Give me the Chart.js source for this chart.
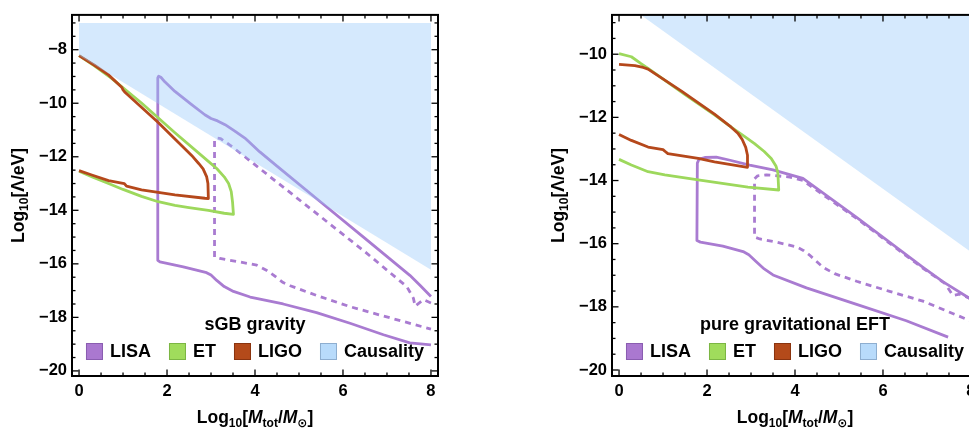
<!DOCTYPE html>
<html>
<head>
<meta charset="utf-8">
<script src="https://cdn.jsdelivr.net/npm/chart.js@4.4.1/dist/chart.umd.min.js"></script>
<style>
  html, body { margin: 0; padding: 0; background: #fff; overflow: hidden; }
  body { width: 969px; height: 432px; position: relative; }
  canvas { position: absolute; top: 0; }
  #sgb { left: 0; }
  #eft { left: 540px; }
</style>
</head>
<body>
<canvas id="sgb" width="480" height="432"></canvas>
<canvas id="eft" width="460" height="432"></canvas>
<script>
// Ticks
const xTicks = [0, 2, 4, 6, 8];
const yTicksSgb = [-20, -18, -16, -14, -12, -10, -8];
const yTicksEft = [-20, -18, -16, -14, -12, -10];
const legendNames = ['LISA', 'ET', 'LIGO', 'Causality'];

// sGB gravity panel: [log10 M, log10 Lambda]
const sgbCausality = [[0, -8.22], [8, -16.22]];
const sgbCausalityTop = -7;
const sgbLisa = [[8.0, -17.22], [7.75, -16.8], [7.52, -16.43], [6.5, -15.05], [5.5, -13.7], [4.5, -12.35],
  [4.11, -11.82], [3.77, -11.3], [3.55, -11.05], [3.32, -10.8], [3.15, -10.66], [3.0, -10.57], [2.86, -10.43],
  [2.56, -10.05], [2.18, -9.56], [1.95, -9.2], [1.86, -9.03], [1.81, -8.99], [1.79, -9.05], [1.79, -15.87],
  [1.84, -15.93], [2.37, -16.11], [2.9, -16.33], [3.0, -16.42], [3.13, -16.62], [3.3, -16.85], [3.51, -17.03],
  [3.89, -17.24], [4.64, -17.5], [5.4, -17.82], [6.16, -18.22], [6.92, -18.65], [7.52, -18.95], [8.0, -19.03]];
const sgbLisaDashed = [[8.0, -17.46], [7.83, -17.34], [7.64, -17.58], [7.6, -17.28], [7.45, -16.85],
  [6.5, -15.55], [5.5, -14.25], [4.5, -12.95], [3.77, -12.0], [3.5, -11.65], [3.22, -11.32], [3.12, -11.3],
  [3.08, -11.4], [3.08, -15.75], [3.2, -15.8], [3.66, -15.93], [4.04, -16.05], [4.27, -16.25], [4.42, -16.42],
  [4.64, -16.7], [4.8, -16.82], [5.4, -17.18], [6.16, -17.6], [6.92, -17.95], [7.3, -18.12], [8.0, -18.44]];
const sgbEt = [[0, -8.22], [0.35, -8.6], [0.74, -9.07], [1.42, -9.99], [2.18, -11.1], [2.94, -12.17],
  [3.13, -12.44], [3.3, -12.75], [3.4, -13.0], [3.46, -13.3], [3.49, -13.7], [3.51, -14.15], [3.3, -14.11],
  [2.94, -14.0], [2.5, -13.9], [2.18, -13.82], [1.8, -13.68], [1.42, -13.48], [1.0, -13.22], [0.67, -13.0],
  [0.3, -12.75], [0, -12.54]];
const sgbLigo = [[0, -8.22], [0.35, -8.58], [0.67, -8.94], [0.97, -9.4], [1.0, -9.5], [1.05, -9.6],
  [1.8, -10.72], [2.56, -11.95], [2.72, -12.25], [2.82, -12.45], [2.9, -12.74], [2.93, -13.0], [2.94, -13.56],
  [2.86, -13.55], [2.18, -13.42], [1.42, -13.24], [1.08, -13.1], [1.03, -13.0], [1.0, -12.99], [0.67, -12.89],
  [0.29, -12.68], [0, -12.52]];

// pure gravitational EFT panel
const eftCausality = [[0, -8.26], [8, -16.26]];
const eftLisa = [[8.0, -17.76], [7.36, -17.2], [6.91, -16.75], [5.4, -15.17], [4.18, -13.93], [3.5, -13.66],
  [2.97, -13.51], [2.5, -13.35], [2.21, -13.26], [1.95, -13.27], [1.82, -13.32], [1.78, -13.45], [1.77, -15.9],
  [1.85, -15.95], [2.36, -16.08], [2.82, -16.25], [2.95, -16.35], [3.12, -16.57], [3.3, -16.8], [3.5, -16.99],
  [4.26, -17.4], [5.4, -17.92], [6.53, -18.44], [7.48, -18.96]];
const eftLisaDashed = [[8.0, -17.74], [7.74, -17.6], [7.59, -17.64], [7.5, -17.45], [7.4, -17.25],
  [6.91, -16.78], [5.4, -15.2], [4.18, -14.0], [3.88, -13.89], [3.35, -13.82], [3.15, -13.85], [3.08, -13.95],
  [3.08, -15.79], [3.2, -15.85], [3.58, -15.95], [4.03, -16.1], [4.2, -16.22], [4.33, -16.36], [4.64, -16.75],
  [4.9, -16.95], [5.4, -17.19], [6.15, -17.51], [6.91, -17.82], [8.0, -18.45]];
const eftEt = [[0, -9.98], [0.28, -10.08], [0.5, -10.3], [0.66, -10.45], [1.5, -11.28], [2.17, -11.92],
  [2.55, -12.31], [2.85, -12.6], [3.08, -12.83], [3.3, -13.08], [3.46, -13.3], [3.57, -13.55], [3.61, -13.75],
  [3.63, -14.3], [2.93, -14.21], [1.8, -13.98], [1.04, -13.82], [0.66, -13.72], [0.28, -13.51], [0, -13.33]];
const eftLigo = [[0, -10.32], [0.36, -10.36], [0.55, -10.42], [0.66, -10.47], [1.42, -11.17], [2.17, -11.9],
  [2.55, -12.31], [2.7, -12.5], [2.8, -12.7], [2.88, -12.95], [2.92, -13.2], [2.92, -13.58], [2.17, -13.41],
  [1.8, -13.3], [1.11, -13.15], [1.05, -13.08], [1.0, -13.02], [0.66, -12.94], [0.28, -12.73], [0, -12.54]];

// Estilos
const FONT = '"Liberation Sans", Arial, "DejaVu Sans", sans-serif';
const COLORS = {
    lisa: '#a97bd1',
    et: '#9dd85c',
    ligo: '#b5481b',
    causality: 'rgba(150, 200, 250, 0.4)'
};
const SWATCHES = [
    { fill: '#aa78d0', stroke: '#8a5db0' },
    { fill: '#a0dc5c', stroke: '#7cb644' },
    { fill: '#b44a1a', stroke: '#8a3410' },
    { fill: '#b8dbfb', stroke: '#8eaed0' }
];

const pts = arr => arr.map(([x, y]) => ({ x, y }));
const fmt = v => (v < 0 ? '\u2212' + Math.abs(v) : String(v));

// Marco con marcas hacia dentro en los cuatro lados
const frameTicks = {
    id: 'frameTicks',
    afterDatasetsDraw(chart) {
        const { ctx, chartArea: a, scales: { x, y } } = chart;
        ctx.save();
        ctx.strokeStyle = '#000';
        ctx.lineWidth = 1.3;
        const seg = (x1, y1, x2, y2) => { ctx.beginPath(); ctx.moveTo(x1, y1); ctx.lineTo(x2, y2); ctx.stroke(); };
        for (let v = Math.ceil(x.min * 2) / 2; v <= x.max; v += 0.5) {
            const p = x.getPixelForValue(v);
            const len = Math.abs(v % 2) < 1e-6 ? 6.5 : 3.5;
            seg(p, a.bottom, p, a.bottom - len);
            seg(p, a.top, p, a.top + len);
        }
        for (let v = Math.ceil(y.min * 2) / 2; v <= y.max; v += 0.5) {
            const p = y.getPixelForValue(v);
            const len = Math.abs(v % 2) < 1e-6 ? 6.5 : 3.5;
            seg(a.left, p, a.left + len, p);
            seg(a.right, p, a.right - len, p);
        }
        ctx.lineWidth = 2;
        ctx.strokeRect(a.left, a.top, a.right - a.left, a.bottom - a.top);
        ctx.restore();
    }
};

function richText(ctx, parts, x, y) {
    let w = 0;
    parts.forEach(p => { ctx.font = p.f; p.w = ctx.measureText(p.t).width; w += p.w; });
    let cx = x - w / 2;
    parts.forEach(p => { ctx.font = p.f; ctx.fillText(p.t, cx, y + (p.dy || 0)); cx += p.w; });
}

const BIG = 'bold 17.5px ' + FONT;
const BIGI = 'italic bold 17.5px ' + FONT;
const SUB = 'bold 12px ' + FONT;

// Etiquetas de ejes y leyenda dentro del área
const labelsLegend = {
    id: 'labelsLegend',
    afterDraw(chart, args, opts) {
        const { ctx, chartArea: a } = chart;
        const cx = (a.left + a.right) / 2;
        const cy = (a.top + a.bottom) / 2;
        ctx.save();
        ctx.fillStyle = '#000';
        ctx.textBaseline = 'alphabetic';
        richText(ctx, [
            { t: 'Log', f: BIG }, { t: '10', f: SUB, dy: 4 }, { t: '[', f: BIG }, { t: 'M', f: BIGI },
            { t: 'tot', f: SUB, dy: 4 }, { t: '/', f: BIG }, { t: 'M', f: BIGI }, { t: '\u2299', f: SUB, dy: 4 },
            { t: ']', f: BIG }
        ], cx, 423);
        ctx.save();
        ctx.translate(24, cy);
        ctx.rotate(-Math.PI / 2);
        richText(ctx, [{ t: 'Log', f: BIG }, { t: '10', f: SUB, dy: 4 }, { t: '[\u039B/eV]', f: BIG }], 0, 0);
        ctx.restore();

        // leyenda
        ctx.font = 'bold 18px ' + FONT;
        ctx.textAlign = 'center';
        ctx.textBaseline = 'middle';
        ctx.fillText(opts.title, cx, 325);
        ctx.textAlign = 'left';
        const sw = 17, gap = 7, sep = 18;
        const widths = legendNames.map(n => ctx.measureText(n).width);
        const total = widths.reduce((s, w) => s + sw + gap + w, 0) + sep * (legendNames.length - 1);
        let lx = cx - total / 2;
        const ly = 351.5;
        legendNames.forEach((n, i) => {
            ctx.fillStyle = SWATCHES[i].fill;
            ctx.fillRect(lx, ly - sw / 2, sw, sw);
            ctx.strokeStyle = SWATCHES[i].stroke;
            ctx.lineWidth = 1;
            ctx.strokeRect(lx + 0.5, ly - sw / 2 + 0.5, sw - 1, sw - 1);
            ctx.fillStyle = '#000';
            ctx.fillText(n, lx + sw + gap, ly + 1);
            lx += sw + gap + widths[i] + sep;
        });
        ctx.restore();
    }
};

function line(data, color, order, dash) {
    return {
        data: pts(data),
        borderColor: color,
        borderWidth: 2.8,
        borderDash: dash || [],
        pointRadius: 0,
        fill: false,
        tension: 0,
        order: order,
        borderJoinStyle: 'round'
    };
}

function makePanel(id, p) {
    const tickFont = { family: FONT, size: 16.5, weight: 'bold' };
    return new Chart(document.getElementById(id), {
        type: 'line',
        data: {
            datasets: [
                {
                    data: pts(p.causality),
                    borderWidth: 0,
                    pointRadius: 0,
                    backgroundColor: COLORS.causality,
                    fill: p.causalityFill,
                    order: 0
                },
                line(p.ligo, COLORS.ligo, 1),
                line(p.et, COLORS.et, 2),
                line(p.lisa, COLORS.lisa, 3),
                line(p.lisaDashed, COLORS.lisa, 4, [6, 5])
            ]
        },
        options: {
            responsive: false,
            animation: false,
            devicePixelRatio: 1,
            layout: { padding: { left: 0, top: 9, right: p.padRight, bottom: 0 } },
            plugins: {
                legend: { display: false },
                tooltip: { enabled: false },
                labelsLegend: { title: p.title }
            },
            scales: {
                x: {
                    type: 'linear',
                    min: -0.16,
                    max: 8.16,
                    afterFit: s => { s.height = 56; },
                    afterBuildTicks: s => { s.ticks = xTicks.map(v => ({ value: v })); },
                    grid: { display: false, drawTicks: false },
                    border: { display: false },
                    ticks: { padding: 6, color: '#000', font: tickFont, callback: fmt }
                },
                y: {
                    type: 'linear',
                    min: p.yMin,
                    max: p.yMax,
                    afterFit: s => { s.width = 72; },
                    afterBuildTicks: s => { s.ticks = p.yTicks.map(v => ({ value: v })); },
                    grid: { display: false, drawTicks: false },
                    border: { display: false },
                    ticks: { padding: 5, color: '#000', font: tickFont, callback: fmt }
                }
            }
        },
        plugins: [frameTicks, labelsLegend]
    });
}

makePanel('sgb', {
    title: 'sGB gravity',
    causality: sgbCausality,
    causalityFill: { value: sgbCausalityTop },
    lisa: sgbLisa, lisaDashed: sgbLisaDashed, et: sgbEt, ligo: sgbLigo,
    yMin: -20.19, yMax: -6.70, yTicks: yTicksSgb, padRight: 42
});

makePanel('eft', {
    title: 'pure gravitational EFT',
    causality: eftCausality,
    causalityFill: 'end',
    lisa: eftLisa, lisaDashed: eftLisaDashed, et: eftEt, ligo: eftLigo,
    yMin: -20.19, yMax: -8.755, yTicks: yTicksEft, padRight: 22
});
</script>
</body>
</html>
